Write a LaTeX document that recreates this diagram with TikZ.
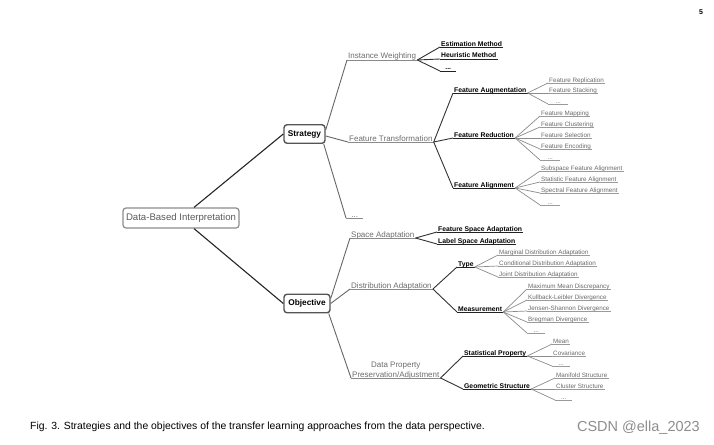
\documentclass[tikz,border=0pt]{standalone}
\usepackage{fontspec}
\setmainfont{Liberation Sans}
\definecolor{rootgray}{HTML}{8C8C8C}
\definecolor{roottxt}{HTML}{5A5A5A}
\definecolor{boxgray}{HTML}{555555}
\definecolor{midgray}{HTML}{6E6E6E}
\definecolor{leafgray}{HTML}{6A6A6A}
\definecolor{ulone}{HTML}{8A8A8A}
\definecolor{ultwo}{HTML}{222222}
\definecolor{ulleaf}{HTML}{9A9A9A}
\definecolor{wmgray}{HTML}{8E8E8E}
\begin{document}
\begin{tikzpicture}[x=1pt,y=-1pt,
  rootbox/.style={draw=rootgray, line width=1.2pt, rounded corners=3pt, fill=white,
    font=\fontsize{9.6}{11}\selectfont, text=roottxt, minimum width=116pt, minimum height=20pt, inner sep=0pt},
  mainbox/.style={draw=boxgray, line width=1.4pt, rounded corners=3pt, fill=white,
    font=\bfseries\fontsize{8.3}{10}\selectfont, minimum height=18.5pt, inner sep=0pt},
  lab/.style={anchor=south west, inner xsep=1pt, inner ysep=0.2pt, text height=0.72em, text depth=0.06em},
  lvlone/.style={lab, font=\fontsize{8}{9.5}\selectfont, text=midgray},
  lvltwo/.style={lab, font=\bfseries\fontsize{6.8}{8}\selectfont, text=black},
  leaf/.style={lab, font=\fontsize{6.3}{7.5}\selectfont, text=leafgray},
  dotw/.style={minimum width=#1},
  rootline/.style={draw=black!85, line width=1.1pt},
  oneline/.style={draw=black!60, line width=0.9pt},
  twoline/.style={draw=black!80, line width=0.9pt},
  leafline/.style={draw=black!45, line width=0.7pt},
]
\useasboundingbox (0,0) rectangle (714,444);
\fill[white] (0,0) rectangle (714,444);

% main nodes
\node[rootbox] (root) at (181,218) {Data-Based Interpretation};
\node[mainbox, minimum width=41pt] (strat) at (304.5,134) {Strategy};
\node[mainbox, minimum width=46pt] (obj) at (307,303.5) {Objective};

% level one
\node[lvlone] (iw) at (347,60) {Instance Weighting};
\node[lvlone] (ft) at (348,142) {Feature Transformation};
\node[lvlone, dotw=17pt] (sd) at (346,218) {...};
\node[lvlone] (sa) at (350,238) {Space Adaptation};
\node[lvlone] (da) at (350,289) {Distribution Adaptation};
\node[lvlone, text height=1.9em] (dp) at (351,378) {\begin{tabular}[b]{@{}c@{}}Data Property\\Preservation/Adjustment\end{tabular}};

% level two
\node[lvltwo] (em) at (440,47) {Estimation Method};
\node[lvltwo] (hm) at (440,59) {Heuristic Method};
\node[lvltwo, dotw=16pt] (iwd) at (440,71) {...};
\node[lvltwo] (fa) at (453,93) {Feature Augmentation};
\node[lvltwo] (fr) at (453,138) {Feature Reduction};
\node[lvltwo] (fal) at (453,188) {Feature Alignment};
\node[lvltwo] (fsa) at (437,232) {Feature Space Adaptation};
\node[lvltwo] (lsa) at (437,244) {Label Space Adaptation};
\node[lvltwo] (ty) at (457,267) {Type};
\node[lvltwo] (me) at (457,312) {Measurement};
\node[lvltwo] (sp) at (463,356) {Statistical Property};
\node[lvltwo] (gs) at (463,389) {Geometric Structure};

% leaves
\node[leaf] (a1) at (548,83) {Feature Replication};
\node[leaf] (a2) at (548,93) {Feature Stacking};
\node[leaf, dotw=20pt] (a3) at (548,104) {...};
\node[leaf] (r1) at (540,116) {Feature Mapping};
\node[leaf] (r2) at (540,127) {Feature Clustering};
\node[leaf] (r3) at (540,138) {Feature Selection};
\node[leaf] (r4) at (540,149) {Feature Encoding};
\node[leaf, dotw=20pt] (r5) at (540,160) {...};
\node[leaf] (g1) at (540,171) {Subspace Feature Alignment};
\node[leaf] (g2) at (540,182) {Statistic Feature Alignment};
\node[leaf] (g3) at (540,193) {Spectral Feature Alignment};
\node[leaf, dotw=20pt] (g4) at (540,205) {...};
\node[leaf] (t1) at (498,255) {Marginal Distribution Adaptation};
\node[leaf] (t2) at (498,266) {Conditional Distribution Adaptation};
\node[leaf] (t3) at (498,277) {Joint Distribution Adaptation};
\node[leaf] (m1) at (527,289) {Maximum Mean Discrepancy};
\node[leaf] (m2) at (527,300) {Kullback-Leibler Divergence};
\node[leaf] (m3) at (527,311) {Jensen-Shannon Divergence};
\node[leaf] (m4) at (527,322) {Bregman Divergence};
\node[leaf, dotw=18pt] (m5) at (527,333) {...};
\node[leaf] (s1) at (552,344) {Mean};
\node[leaf] (s2) at (552,356) {Covariance};
\node[leaf, dotw=18pt] (s3) at (552,366) {...};
\node[leaf] (c1) at (555,378) {Manifold Structure};
\node[leaf] (c2) at (555,389) {Cluster Structure};
\node[leaf, dotw=17pt] (c3) at (555,400) {...};

% underlines
\foreach \n in {iw,ft,sd,sa,da,dp}
  \draw[draw=ulone, line width=0.9pt] (\n.south west) -- (\n.south east);
\foreach \n in {em,hm,iwd,fa,fr,fal,fsa,lsa,ty,me,sp,gs}
  \draw[draw=ultwo, line width=0.9pt] (\n.south west) -- (\n.south east);
\foreach \n in {a1,a2,a3,r1,r2,r3,r4,r5,g1,g2,g3,g4,t1,t2,t3,m1,m2,m3,m4,m5,s1,s2,s3,c1,c2,c3}
  \draw[draw=ulleaf, line width=0.7pt] (\n.south west) -- (\n.south east);

% connectors
\draw[rootline] ([xshift=13pt]root.north) -- (strat.west);
\draw[rootline] ([xshift=13pt]root.south) -- (obj.west);
\draw[oneline] ([yshift=4pt]strat.east) -- (iw.south west);
\draw[oneline] ([yshift=-2pt]strat.east) -- (ft.south west);
\draw[oneline] ([xshift=-2pt]strat.south east) -- (sd.south west);
\draw[oneline] ([yshift=5pt]obj.east) -- (sa.south west);
\draw[oneline] (obj.east) -- (da.south west);
\draw[oneline] ([xshift=-2pt]obj.south east) -- (dp.south west);

\foreach \c in {em,hm,iwd} \draw[twoline] (iw.south east) -- (\c.south west);
\foreach \c in {fa,fr,fal} \draw[twoline] (ft.south east) -- (\c.south west);
\foreach \c in {fsa,lsa} \draw[twoline] (sa.south east) -- (\c.south west);
\foreach \c in {ty,me} \draw[twoline] (da.south east) -- (\c.south west);
\foreach \c in {sp,gs} \draw[twoline] (dp.south east) -- (\c.south west);

\foreach \c in {a1,a2,a3} \draw[leafline] (fa.south east) -- (\c.south west);
\foreach \c in {r1,r2,r3,r4,r5} \draw[leafline] (fr.south east) -- (\c.south west);
\foreach \c in {g1,g2,g3,g4} \draw[leafline] (fal.south east) -- (\c.south west);
\foreach \c in {t1,t2,t3} \draw[leafline] (ty.south east) -- (\c.south west);
\foreach \c in {m1,m2,m3,m4,m5} \draw[leafline] (me.south east) -- (\c.south west);
\foreach \c in {s1,s2,s3} \draw[leafline] (sp.south east) -- (\c.south west);
\foreach \c in {c1,c2,c3} \draw[leafline] (gs.south east) -- (\c.south west);

% caption, page number, watermark
\node[anchor=base west, inner sep=0pt, font=\fontsize{10.4}{12}\selectfont] (cap) at (30,429)
  {Fig. 3. Strategies and the objectives of the transfer learning approaches from the data perspective.};
\node[anchor=base, inner sep=0pt, font=\bfseries\fontsize{7}{8}\selectfont] (pg) at (701,15) {5};
\node[anchor=base east, inner sep=0pt, font=\fontsize{14.5}{16}\selectfont, text=wmgray] (wm) at (700,431) {CSDN @ella\_2023};
\end{tikzpicture}
\end{document}
